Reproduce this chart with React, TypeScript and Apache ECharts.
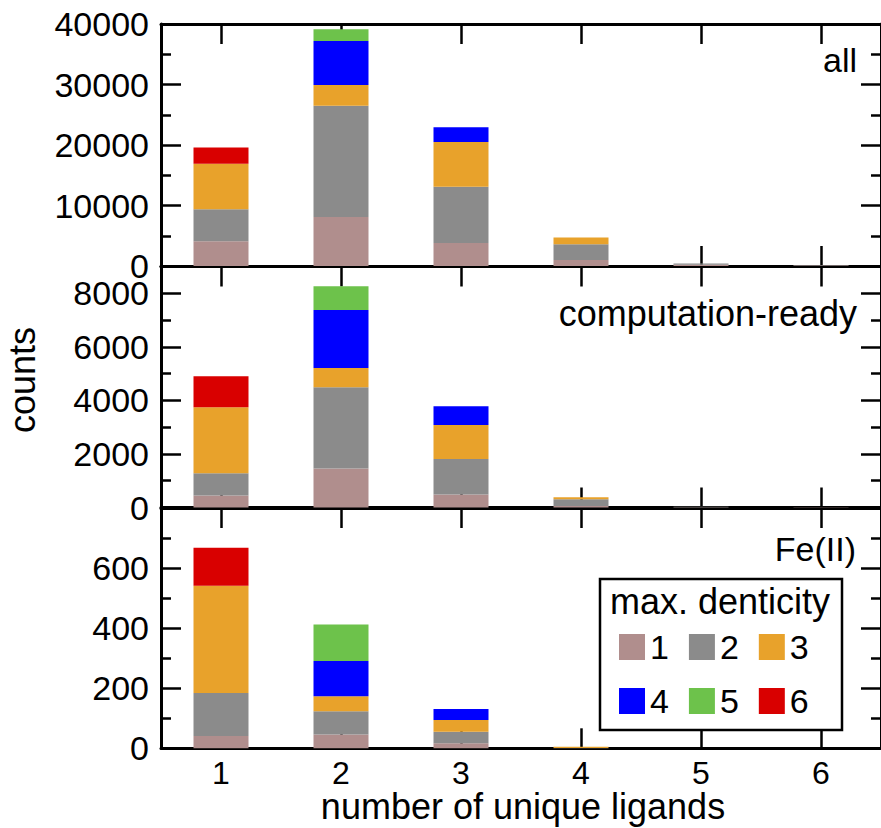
import React, { useEffect, useRef } from "react";
import * as echarts from "echarts";

const categories = ["1", "2", "3", "4", "5", "6"];
const denticities = ["1", "2", "3", "4", "5", "6"];
const colors = ["#b08e8d", "#8b8b8b", "#e8a22b", "#0000ff", "#6dc24b", "#d90000"];
const panelLabels = ["all", "computation-ready", "Fe(II)"];
const panelMax = [40000, 9000, 800];
const panelInterval = [10000, 2000, 200];

// panel "all": counts per number of unique ligands, by max. denticity
const all_d1 = [4100, 8100, 3800, 1000, 200, 80];
const all_d2 = [5300, 18400, 9300, 2600, 200, 70];
const all_d3 = [7500, 3400, 7400, 1100, 0, 0];
const all_d4 = [0, 7300, 2450, 0, 0, 0];
const all_d5 = [0, 1950, 0, 0, 0, 0];
const all_d6 = [2700, 0, 0, 0, 0, 0];

// panel "computation-ready"
const comp_d1 = [450, 1460, 490, 60, 10, 5];
const comp_d2 = [830, 3030, 1320, 250, 15, 5];
const comp_d3 = [2460, 720, 1270, 75, 0, 0];
const comp_d4 = [0, 2170, 700, 0, 0, 0];
const comp_d5 = [0, 885, 0, 0, 0, 0];
const comp_d6 = [1160, 0, 0, 0, 0, 0];

// panel "Fe(II)"
const fe_d1 = [41, 46, 17, 0, 0, 0];
const fe_d2 = [143, 77, 38, 1, 0, 0];
const fe_d3 = [357, 50, 39, 4, 0, 0];
const fe_d4 = [0, 118, 37, 0, 0, 0];
const fe_d5 = [0, 121, 0, 0, 0, 0];
const fe_d6 = [127, 0, 0, 0, 0, 0];

const panels = [
  [all_d1, all_d2, all_d3, all_d4, all_d5, all_d6],
  [comp_d1, comp_d2, comp_d3, comp_d4, comp_d5, comp_d6],
  [fe_d1, fe_d2, fe_d3, fe_d4, fe_d5, fe_d6],
];

const FONT = "Liberation Sans, Arial, Helvetica, sans-serif";
const grids = [
  { left: 161, top: 24, width: 725, height: 242 },
  { left: 161, top: 266.5, width: 725, height: 241 },
  { left: 161, top: 508, width: 725, height: 240.3 },
];

export default function App() {
  const ref = useRef<HTMLDivElement>(null);
  useEffect(() => {
    if (!ref.current) return;
    const chart = echarts.init(ref.current, null, { renderer: "svg" });
    const lineStyle = { color: "#000", width: 3 };
    const tickStyle = { color: "#000", width: 2.5 };

    const xAxes: any[] = [];
    const yAxes: any[] = [];
    const series: any[] = [];
    panels.forEach((panel, gi) => {
      ["bottom", "top"].forEach((pos) => {
        xAxes.push({
          type: "category",
          gridIndex: gi,
          position: pos,
          data: categories,
          boundaryGap: true,
          axisLine: { show: true, lineStyle, onZero: false },
          axisTick: { show: true, inside: true, length: 20, alignWithLabel: true, interval: 0, lineStyle: tickStyle },
          axisLabel: {
            show: gi === 2 && pos === "bottom",
            interval: 0,
            margin: 25,
            verticalAlign: "middle",
            fontSize: 32,
            color: "#000",
            fontFamily: FONT,
          },
          splitLine: { show: false },
        });
      });
      ["left", "right"].forEach((pos) => {
        yAxes.push({
          type: "value",
          gridIndex: gi,
          position: pos,
          min: 0,
          max: panelMax[gi],
          interval: panelInterval[gi],
          axisLine: { show: true, lineStyle, onZero: false },
          axisTick: { show: true, inside: true, length: 20, lineStyle: tickStyle },
          minorTick: { show: true, splitNumber: 2, length: 10, lineStyle: tickStyle },
          axisLabel: {
            show: pos === "left",
            margin: 12,
            fontSize: 34,
            color: "#000",
            fontFamily: FONT,
            showMaxLabel: gi === 0,
            showMinLabel: true,
            formatter: (v: number) => String(v),
          },
          splitLine: { show: false },
          minorSplitLine: { show: false },
        });
      });
      panel.forEach((vals, si) => {
        series.push({
          type: "bar",
          name: denticities[si],
          xAxisIndex: gi * 2,
          yAxisIndex: gi * 2,
          stack: "panel" + gi,
          barWidth: 55,
          data: vals,
          itemStyle: { color: colors[si] },
          emphasis: { disabled: true },
        });
      });
    });

    const textStyle = (extra: any) => ({
      fill: "#000",
      fontSize: 34,
      fontFamily: FONT,
      ...extra,
    });

    chart.setOption({
      animation: false,
      color: colors,
      grid: grids,
      xAxis: xAxes,
      yAxis: yAxes,
      series,
      legend: {
        data: denticities,
        left: 619,
        top: 630,
        width: 200,
        padding: 0,
        itemWidth: 26,
        itemHeight: 26,
        itemGap: 20,
        icon: "rect",
        selectedMode: false,
        z: 10,
        textStyle: { fontSize: 34, color: "#000", fontFamily: FONT },
      },
      graphic: [
        {
          type: "rect",
          z: 5,
          shape: { x: 600, y: 579, width: 242, height: 151 },
          style: { fill: "#fff", stroke: "#000", lineWidth: 2.5 },
        },
        {
          type: "text",
          z: 6,
          x: 610,
          y: 601,
          style: textStyle({ text: "max. denticity", textAlign: "left", textVerticalAlign: "middle", fontSize: 36 }),
        },
        {
          type: "text",
          x: 857,
          y: 60,
          style: textStyle({ text: panelLabels[0], textAlign: "right", textVerticalAlign: "middle" }),
        },
        {
          type: "text",
          x: 857,
          y: 313,
          style: textStyle({ text: panelLabels[1], textAlign: "right", textVerticalAlign: "middle", fontSize: 36 }),
        },
        {
          type: "text",
          x: 856,
          y: 549,
          style: textStyle({ text: panelLabels[2], textAlign: "right", textVerticalAlign: "middle" }),
        },
        {
          type: "text",
          x: 22,
          y: 380,
          rotation: Math.PI / 2,
          style: textStyle({ text: "counts", textAlign: "center", textVerticalAlign: "middle", fontSize: 36 }),
        },
        {
          type: "text",
          x: 523,
          y: 806,
          style: textStyle({ text: "number of unique ligands", textAlign: "center", textVerticalAlign: "middle", fontSize: 36 }),
        },
      ],
    });
    return () => chart.dispose();
  }, []);
  return (
    <div
      ref={ref}
      style={{ position: "fixed", left: 0, top: 0, width: 881, height: 828, background: "#fff" }}
    />
  );
}
